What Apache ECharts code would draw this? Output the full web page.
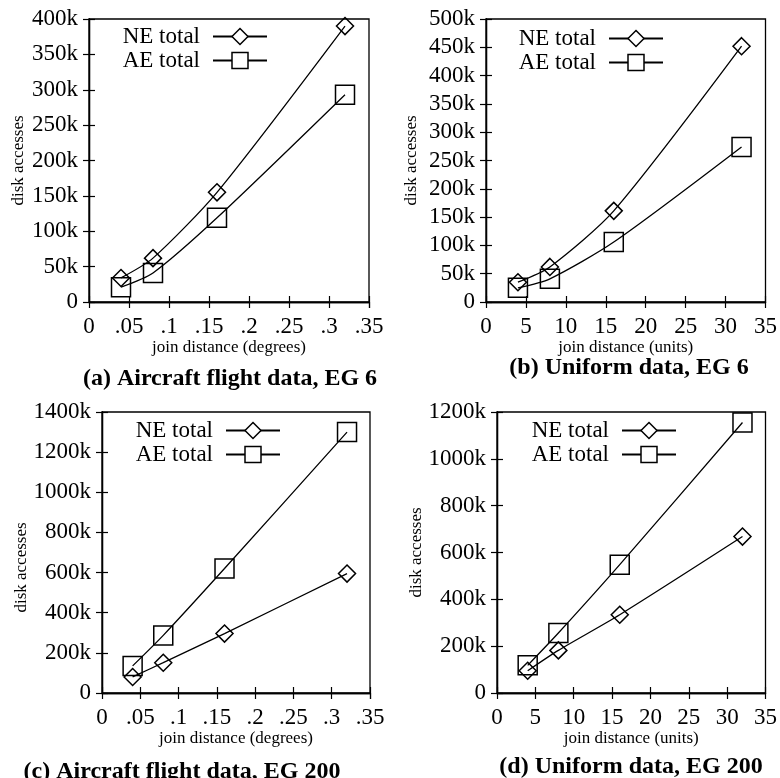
<!DOCTYPE html>
<html>
<head>
<meta charset="utf-8">
<script src="https://cdn.jsdelivr.net/npm/echarts@6/dist/echarts.min.js"></script>
<style>
html,body{margin:0;padding:0;background:#fff;}
#chart{width:780px;height:778px;}
</style>
</head>
<body>
<div id="chart"></div>
<script>
// ---- data ----
const xDegrees = [0.04, 0.08, 0.16, 0.32];
const xUnits = [4, 8, 16, 32];
const neA = [34000, 62000, 155000, 390000];
const aeA = [21000, 41000, 119000, 293000];
const neB = [35000, 62000, 161000, 452000];
const aeB = [25000, 41000, 106000, 274000];
const neC = [80000, 151000, 296000, 595000];
const aeC = [135000, 287000, 620000, 1300000];
const neD = [95000, 182000, 334000, 668000];
const aeD = [118000, 256000, 548000, 1155000];
const seriesNames = ['NE total', 'AE total'];
const xTickLabelsDeg = ['0', '.05', '.1', '.15', '.2', '.25', '.3', '.35'];
const xTickLabelsUnits = ['0', '5', '10', '15', '20', '25', '30', '35'];
const panelTitles = ['(a) Aircraft flight data, EG 6', '(b) Uniform data, EG 6',
  '(c) Aircraft flight data, EG 200', '(d) Uniform data, EG 200'];
const xNames = ['join distance (degrees)', 'join distance (units)',
  'join distance (degrees)', 'join distance (units)'];
const yName = 'disk accesses';

// ---- layout ----
const FONT = '"Liberation Serif", "DejaVu Serif", serif';
const panels = [
  {grid:{left:89, top:19, width:280, height:283}, xs:xDegrees, ne:neA, ae:aeA, xInt:0.05, xLabels:xTickLabelsDeg, yMax:400000, yInt:50000,
   yGap:62, yPad:[0,0,0,0], xGap:37, legendRight:780-273, legendTop:20, title:[225, 362]},
  {grid:{left:486, top:19, width:280, height:283}, xs:xUnits, ne:neB, ae:aeB, xInt:5, xLabels:xTickLabelsUnits, yMax:500000, yInt:50000,
   yGap:66, yPad:[0,0,0,0], xGap:30, legendRight:780-669, legendTop:22, title:[624, 351]},
  {grid:{left:102, top:412, width:268, height:281}, xs:xDegrees, ne:neC, ae:aeC, xInt:0.05, xLabels:xTickLabelsDeg, yMax:1400000, yInt:200000,
   yGap:64, yPad:[0,30,0,0], xGap:37, legendRight:780-286, legendTop:414, title:[177, 755]},
  {grid:{left:497, top:412, width:269, height:281}, xs:xUnits, ne:neD, ae:aeD, xInt:5, xLabels:xTickLabelsUnits, yMax:1200000, yInt:200000,
   yGap:72, yPad:[0,0,0,0], xGap:28, legendRight:780-682, legendTop:414, title:[626, 750]}
];

const grids = [], xAxes = [], yAxes = [], series = [], legends = [], titles = [];
const axisLineStyle = {color:'#000', width:1.3};
const tickStyle = {show:true, inside:true, length:6, lineStyle:{color:'#000', width:1.2}};

panels.forEach((p, i) => {
  grids.push(Object.assign({show:true, borderColor:'#000', borderWidth:1.3, backgroundColor:'transparent'}, p.grid));
  const xMax = p.xInt * 7;
  xAxes.push({
    type:'value', gridIndex:i, position:'bottom', min:0, max:xMax, interval:p.xInt,
    axisLine:{show:true, lineStyle:axisLineStyle}, axisTick:tickStyle, splitLine:{show:false},
    axisLabel:{margin:13, color:'#000', fontFamily:FONT, fontSize:23,
      formatter:(v)=>p.xLabels[Math.round(v / p.xInt)]},
    name:xNames[i], nameLocation:'middle', nameGap:p.xGap,
    nameTextStyle:{color:'#000', fontFamily:FONT, fontSize:17}
  });
  xAxes.push({
    type:'value', gridIndex:i, position:'top', min:0, max:xMax, interval:p.xInt,
    axisLine:{show:true, lineStyle:axisLineStyle}, axisTick:tickStyle, splitLine:{show:false},
    axisLabel:{show:false}
  });
  yAxes.push({
    type:'value', gridIndex:i, position:'left', min:0, max:p.yMax, interval:p.yInt,
    axisLine:{show:true, lineStyle:axisLineStyle}, axisTick:tickStyle, splitLine:{show:false},
    axisLabel:{margin:11, color:'#000', fontFamily:FONT, fontSize:23,
      formatter:(v)=> v === 0 ? '0' : (v/1000) + 'k'},
    name:yName, nameLocation:'middle', nameGap:p.yGap,
    nameTextStyle:{color:'#000', fontFamily:FONT, fontSize:17, padding:p.yPad}
  });
  yAxes.push({
    type:'value', gridIndex:i, position:'right', min:0, max:p.yMax, interval:p.yInt,
    axisLine:{show:true, lineStyle:axisLineStyle}, axisTick:tickStyle, splitLine:{show:false},
    axisLabel:{show:false}
  });
  const mk = (name, vals, symbol, size) => ({
    type:'line', name:name, xAxisIndex:2*i, yAxisIndex:2*i,
    data:p.xs.map((x, k) => [x, vals[k]]),
    smooth:0.25, symbol:symbol, symbolSize:size, showAllSymbol:true,
    lineStyle:{color:'#000', width:1.3},
    itemStyle:{color:'rgba(0,0,0,0)', borderColor:'#000', borderWidth:1.5},
    emphasis:{disabled:true}, animation:false, z:3
  });
  series.push(mk(seriesNames[0], p.ne, 'diamond', [17, 17]));
  series.push(mk(seriesNames[1], p.ae, 'rect', [19, 19]));
  legends.push({
    data:seriesNames, orient:'vertical', right:p.legendRight, top:p.legendTop,
    align:'right', itemWidth:54, itemHeight:20, itemGap:1, selectedMode:false,
    itemStyle:{color:'#fff', borderColor:'#000', borderWidth:1.5},
    textStyle:{color:'#000', fontFamily:FONT, fontSize:23, padding:[0,8,0,0]}
  });
  titles.push({
    text:panelTitles[i], left:p.title[0], top:p.title[1], textAlign:'center',
    textStyle:{color:'#000', fontFamily:FONT, fontSize:24, fontWeight:'bold'}
  });
});

const chart = echarts.init(document.getElementById('chart'), null, {renderer:'canvas'});
chart.setOption({
  backgroundColor:'#fff', animation:false,
  title:titles, grid:grids, xAxis:xAxes, yAxis:yAxes, series:series, legend:legends
});
</script>
</body>
</html>
